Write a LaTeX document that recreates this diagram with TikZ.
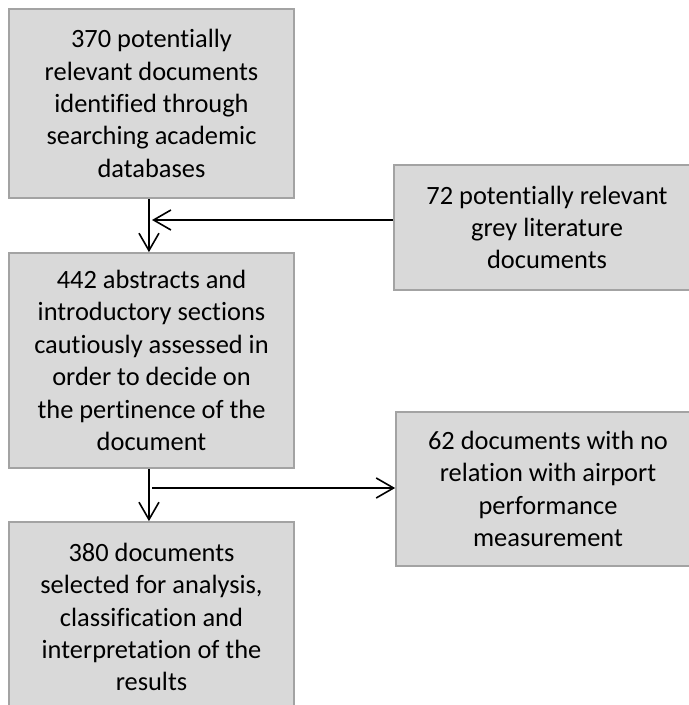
\documentclass[tikz,border=0pt]{standalone}
\usepackage{fontspec}
\setmainfont{Carlito}[RawFeature=-liga]
\usetikzlibrary{arrows.meta}
\definecolor{boxfill}{HTML}{D9D9D9}
\definecolor{boxline}{HTML}{A3A3A3}
\tikzset{
  flowbox/.style={draw=boxline, fill=boxfill, line width=1.3pt, align=center, inner sep=0pt,
    font=\fontsize{19.8}{24.3}\selectfont, text=black},
  flowarrow/.style={draw=black, line width=1.2pt, -{Straight Barb[length=13pt,width=15pt,line width=1.2pt]}}
}
\begin{document}
\begin{tikzpicture}[x=0.75pt,y=-0.75pt]
\useasboundingbox (0,0) rectangle (688,705);
\node[flowbox, minimum width=285*0.75pt, minimum height=189*0.75pt] (b1) at (151.5,103.5)
  {370 potentially\\relevant documents\\identified through\\searching academic\\databases};
\node[flowbox, minimum width=285*0.75pt, minimum height=215*0.75pt] (b2) at (151.5,360.5)
  {442 abstracts and\\introductory sections\\cautiously assessed in\\order to decide on\\the pertinence of the\\document};
\node[flowbox, minimum width=285*0.75pt, minimum height=190*0.75pt] (b3) at (151.5,617)
  {380 documents\\selected for analysis,\\classification and\\interpretation of the\\results};
\node[flowbox, minimum width=306*0.75pt, minimum height=125*0.75pt] (r1) at (547,227.5)
  {72 potentially relevant\\grey literature\\documents};
\node[flowbox, minimum width=304*0.75pt, minimum height=154*0.75pt] (r2) at (548,489)
  {62 documents with no\\relation with airport\\performance\\measurement};
\coordinate (j1) at (152,220);
\coordinate (j2) at (152,488);
\draw[flowarrow] ([xshift=-1.9pt]b1.south) -- ([xshift=-1.9pt]b2.north);
\draw[flowarrow] (j1 -| r1.west) -- (j1);
\draw[flowarrow] ([xshift=-1.9pt]b2.south) -- ([xshift=-1.9pt]b3.north);
\draw[flowarrow] (j2) -- (j2 -| r2.west);
\end{tikzpicture}
\end{document}
